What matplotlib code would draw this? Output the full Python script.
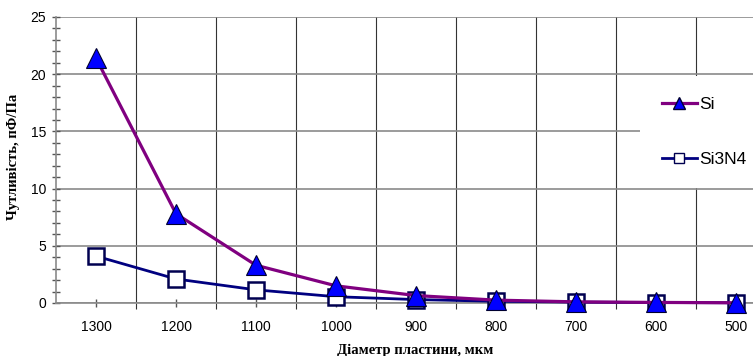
import matplotlib
matplotlib.use("Agg")
import matplotlib.pyplot as plt
from matplotlib.patches import Rectangle
from matplotlib.ticker import MultipleLocator, FixedLocator

categories = ["1300", "1200", "1100", "1000", "900", "800", "700", "600", "500"]
si_values = [21.4, 7.8, 3.3, 1.5, 0.65, 0.25, 0.1, 0.05, 0.02]
si3n4_values = [4.1, 2.1, 1.15, 0.55, 0.3, 0.15, 0.08, 0.04, 0.02]
series_names = ["Si", "Si3N4"]
y_label = "Чутливість, пФ/Па"
x_label = "Діаметр пластини, мкм"

W, H = 753, 356
fig = plt.figure(figsize=(W / 100, H / 100), dpi=100)
ax = fig.add_axes([56 / W, (H - 303) / H, (W - 56) / W, (303 - 17) / H])

x = list(range(len(categories)))
ax.set_xlim(-0.5, -0.5 + (W - 56) / 80)
ax.set_ylim(0, 25)

grid_gray = "#8a8a8a"
ax.set_axisbelow(True)
ax.yaxis.set_major_locator(MultipleLocator(5))
ax.yaxis.set_minor_locator(MultipleLocator(1))
ax.grid(True, axis="y", which="major", color=grid_gray, lw=1.2, zorder=0.5)
ax.xaxis.set_major_locator(FixedLocator(x))
ax.xaxis.set_minor_locator(FixedLocator([i + 0.5 for i in x]))
ax.grid(True, axis="x", which="minor", color="#333333", lw=0.8, zorder=0.5)
ax.set_xticklabels(categories)

for s in ["top", "right"]:
    ax.spines[s].set_visible(False)
ax.spines["left"].set_color(grid_gray)
ax.spines["bottom"].set_color(grid_gray)
ax.spines["left"].set_linewidth(1.2)
ax.spines["bottom"].set_linewidth(1.2)

ax.tick_params(axis="y", which="major", direction="inout", length=6, width=1, color="#555555",
               pad=4, labelsize=10)
ax.tick_params(axis="y", which="minor", direction="inout", length=6, width=1, color="#555555")
ax.tick_params(axis="x", which="major", direction="inout", length=6, width=1, color="#555555",
               pad=9, labelsize=10)
ax.tick_params(axis="x", which="minor", direction="out", length=4, width=0.8, color="#333333")
for lab in ax.get_xticklabels() + ax.get_yticklabels():
    lab.set_fontfamily("Liberation Sans")

# legend background (white box hiding gridlines)
lx0 = (640 - 56) / (W - 56)
ly0 = (303 - 188) / (303 - 17)
ly1 = (303 - 76) / (303 - 17)
ax.add_patch(Rectangle((lx0, ly0), 1.2 - lx0, ly1 - ly0, transform=ax.transAxes,
                       facecolor="white", edgecolor="none", zorder=0.8, clip_on=False))

l2, = ax.plot(x, si3n4_values, color="#000080", lw=2.0, marker="s", ms=11,
              mfc="white", mec="#000050", mew=1.8, zorder=3, clip_on=False)
l1, = ax.plot(x, si_values, color="#800080", lw=2.3, marker="^", ms=14,
              mfc="#0000ff", mec="#000030", mew=0.8, zorder=4, clip_on=False)

leg = ax.legend([l1, l2], series_names, loc="upper left",
                bbox_to_anchor=(662 / W, (H - 97) / H), bbox_transform=fig.transFigure,
                frameon=False, borderpad=0, borderaxespad=0,
                handlelength=2.0, handletextpad=0.15, labelspacing=2.3,
                markerscale=0.6, prop={"family": "Liberation Sans", "size": 12.5})
for h in leg.legend_handles:
    h.set_markeredgewidth(1.0)

ax.set_ylabel(y_label, fontfamily="Liberation Serif", fontweight="bold", fontsize=10.5)
ax.yaxis.set_label_coords(13 / W, (H - 157) / H, transform=fig.transFigure)
ax.set_xlabel(x_label, fontfamily="Liberation Serif", fontweight="bold", fontsize=10.5)
ax.xaxis.set_label_coords(415 / W, (H - 350) / H, transform=fig.transFigure)
ax.xaxis.label.set_va("center")
ax.yaxis.label.set_va("center")

fig.savefig("out.png", dpi=100)
